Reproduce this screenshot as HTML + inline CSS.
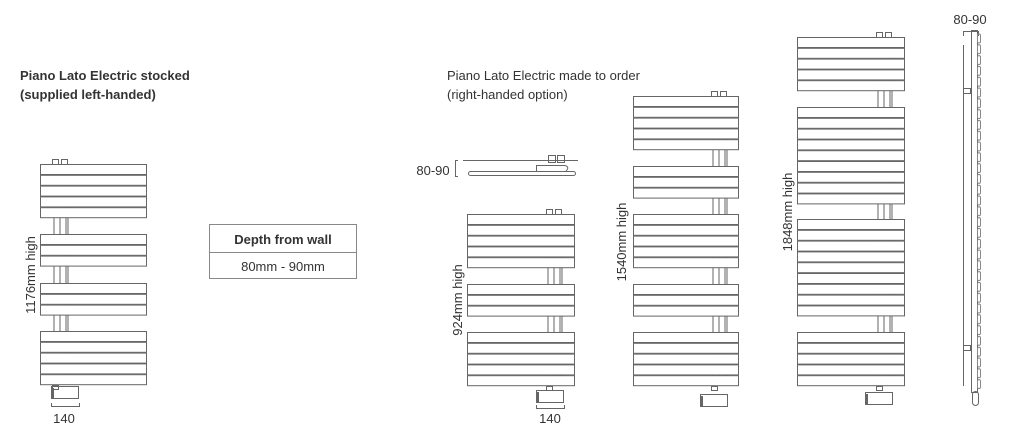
<!DOCTYPE html>
<html><head><meta charset="utf-8"><style>
body{margin:0;background:#fff;width:1024px;height:442px;overflow:hidden}
svg{display:block}
text{font-family:"Liberation Sans",sans-serif;fill:#333}
</style></head><body>
<svg id="s" width="1024" height="442" viewBox="0 0 1024 442" xmlns="http://www.w3.org/2000/svg">
<g fill="none" stroke="#666" stroke-width="1">
<rect x="209.5" y="224.5" width="147" height="54" stroke="#888"/>
<line x1="209.5" y1="252.5" x2="356.5" y2="252.5" stroke="#888"/>
<path d="M458 160.5 H455.5 V176.5 H458" />
<line x1="463" y1="160.5" x2="578" y2="160.5"/>
<rect x="468.5" y="171.5" width="107" height="4" rx="2"/>
<rect x="548.5" y="155.5" width="7" height="7"/><rect x="557.5" y="155.5" width="7" height="7"/>
<path d="M536.5 172 V165.5 H565 Q570 167 566 171"/>
<path d="M963.5 36 V31.5 H978.5 V36"/>
<line x1="963.5" y1="45" x2="963.5" y2="386"/>
<rect x="971.5" y="30.5" width="6" height="362"/>
<rect x="963.5" y="88.5" width="7" height="5"/><rect x="963.5" y="345.5" width="7" height="5"/>
<rect x="972.5" y="391.5" width="6" height="14" rx="3"/>
</g>
<g id="r"></g>
<text x="20" y="80" font-size="13" font-weight="bold">Piano Lato Electric stocked</text>
<text x="20" y="99" font-size="13" font-weight="bold">(supplied left-handed)</text>
<text x="447" y="80" font-size="13">Piano Lato Electric made to order</text>
<text x="447" y="99" font-size="13">(right-handed option)</text>
<text x="283" y="244" font-size="13" font-weight="bold" text-anchor="middle">Depth from wall</text>
<text x="283" y="271" font-size="13" text-anchor="middle">80mm - 90mm</text>
<text x="433" y="175" font-size="13" text-anchor="middle">80-90</text>
<text x="970" y="24" font-size="13" text-anchor="middle">80-90</text>
<text x="64" y="423" font-size="13" text-anchor="middle">140</text>
<text x="550" y="423" font-size="13" text-anchor="middle">140</text>
<text transform="translate(35,275) rotate(-90)" font-size="13" text-anchor="middle">1176mm high</text>
<text transform="translate(462,300) rotate(-90)" font-size="13" text-anchor="middle">924mm high</text>
<text transform="translate(626,242) rotate(-90)" font-size="13" text-anchor="middle">1540mm high</text>
<text transform="translate(792,212) rotate(-90)" font-size="13" text-anchor="middle">1848mm high</text>
</svg>
<script>
var g=document.getElementById('r'),h='';
function R(x,w,groups,px,vy,dim){
 var s='';
 var top=groups[0][0],bot=groups[groups.length-1][0]+groups[groups.length-1][1]*10.8;
 [0,6,12].forEach(function(d){s+='<line x1="'+(px+d+2)+'" y1="'+top+'" x2="'+(px+d+2)+'" y2="'+bot+'"/>';});
 s+='<line x1="'+(px+16)+'" y1="'+top+'" x2="'+(px+16)+'" y2="'+bot+'"/>';
 groups.forEach(function(gr){for(var i=0;i<gr[1];i++){var y=gr[0]+i*10.8;
  s+='<rect x="'+(x+.5)+'" y="'+(y+.5)+'" width="'+w+'" height="10" fill="#fff"/>';}});
 s+='<rect x="'+(px+.5)+'" y="'+(top-4.5)+'" width="6" height="5"/><rect x="'+(px+9.5)+'" y="'+(top-4.5)+'" width="6" height="5"/>';
 s+='<rect x="'+(px+.5)+'" y="'+(bot+.5)+'" width="6" height="4"/>';
 s+='<rect x="'+(vy[0]+.5)+'" y="'+(vy[1]+.5)+'" width="27" height="12"/>';
 s+='<line x1="'+(vy[0]+2)+'" y1="'+(vy[1]+2)+'" x2="'+(vy[0]+2)+'" y2="'+(vy[1]+12)+'" stroke-width="2"/>';
 if(dim)s+='<path d="M'+(vy[0]+.5)+' '+(dim-3)+' V'+(dim+.5)+' H'+(vy[0]+28.5)+' V'+(dim-3)+'"/>';
 h+='<g fill="none" stroke="#666">'+s+'</g>';
}
R(40,106,[[164,5],[234,3],[283,3],[331,5]],52,[51,386],406);
R(467,107,[[214,5],[284,3],[332,5]],546,[536,390],408);
R(633,105,[[96,5],[166,3],[214,5],[284,3],[332,5]],711,[700,394],0);
R(797,107,[[37,5],[107,9],[219,9],[332,5]],876,[865,392],0);
var bm='';for(var y=34;y<388;y+=10.8)bm+='<rect x="977.5" y="'+y+'" width="3" height="9" rx="1.5"/>';
h+='<g fill="none" stroke="#888">'+bm+'</g>';
g.innerHTML=h;
</script>
</body></html>
